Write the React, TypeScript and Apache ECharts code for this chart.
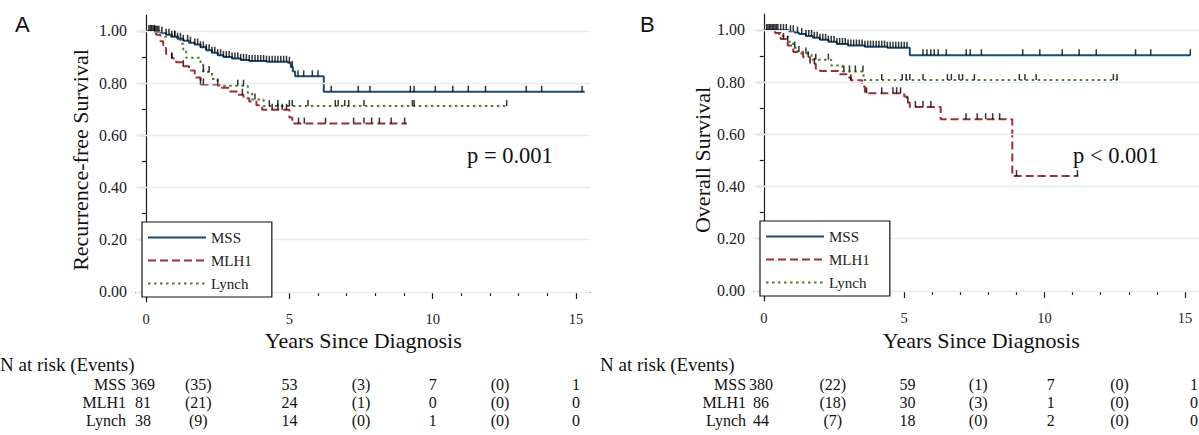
import React, { useEffect, useRef } from "react";
import * as echarts from "echarts";

// ---------- data ----------
const GROUPS = ["MSS", "MLH1", "Lynch"];
const X_MAJOR = [0, 5, 10, 15];
const X_MINOR = [1, 2, 3, 4, 6, 7, 8, 9, 11, 12, 13, 14];
const Y_MAJOR = [0, 0.2, 0.4, 0.6, 0.8, 1.0];
const Y_MINOR = [0.1, 0.3, 0.5, 0.7, 0.9];

// Panel A: recurrence-free survival, [years, survival] step points
const A_MSS = [
  [0, 1], [0.3, 0.997], [0.5, 0.994], [0.7, 0.985], [0.9, 0.978], [1.1, 0.97], [1.3, 0.962],
  [1.5, 0.955], [1.7, 0.948], [1.9, 0.937], [2.1, 0.926], [2.3, 0.916], [2.5, 0.907],
  [2.7, 0.9], [3.0, 0.894], [3.3, 0.889], [3.6, 0.885], [4.2, 0.882], [4.95, 0.878],
  [5.05, 0.862], [5.12, 0.845], [5.2, 0.826], [6.2, 0.767], [15.3, 0.767],
];
const A_MLH1 = [
  [0, 1], [0.35, 0.985], [0.5, 0.96], [0.6, 0.935], [0.7, 0.912], [0.9, 0.895], [1.05, 0.88],
  [1.3, 0.865], [1.5, 0.848], [1.7, 0.822], [1.9, 0.795], [2.6, 0.782], [2.9, 0.768],
  [3.2, 0.755], [3.4, 0.742], [3.6, 0.73], [3.85, 0.715], [4.05, 0.698], [5.0, 0.668],
  [5.1, 0.645], [9.1, 0.645],
];
const A_LYNCH = [
  [0, 1], [0.6, 0.978], [1.2, 0.951], [1.3, 0.924], [1.4, 0.897], [1.9, 0.87], [2.0, 0.843],
  [2.3, 0.816], [2.5, 0.79], [3.55, 0.763], [3.7, 0.737], [4.1, 0.712], [12.6, 0.712],
];
const A_MSS_CENSOR = [
  0.1, 0.15, 0.2, 0.25, 0.3, 0.35, 0.4, 0.45, 0.55, 0.7, 0.8, 0.9, 1.0, 1.1, 1.2, 1.3, 1.45,
  1.55, 1.7, 1.8, 1.9, 2.0, 2.1, 2.2, 2.3, 2.4, 2.5, 2.6, 2.7, 2.8, 2.9, 3.0, 3.1, 3.2, 3.3,
  3.4, 3.5, 3.6, 3.7, 3.8, 3.9, 4.0, 4.1, 4.2, 4.3, 4.4, 4.5, 4.6, 4.7, 4.8, 4.9, 5.0, 5.1,
  5.3, 5.5, 5.8, 6.0, 6.46, 7.4, 7.81, 9.22, 9.35, 10.09, 10.7, 11.24, 11.84, 13.26, 13.8, 15.21,
];
const A_MLH1_CENSOR = [
  0.3, 0.9, 1.3, 1.9, 2.0, 2.5, 3.36, 4.4, 4.6, 4.75, 4.9, 5.32, 5.52, 6.26, 7.24, 7.6, 7.87,
  8.14, 8.55, 9.02,
];
const A_LYNCH_CENSOR = [
  1.0, 2.0, 2.2, 3.2, 3.4, 3.8, 4.3, 4.6, 5.0, 5.1, 5.65, 6.6, 6.7, 6.93, 7.07, 7.6, 9.29,
  9.35, 12.58,
];

// Panel B: overall survival
const B_MSS = [
  [0, 1], [0.9, 0.995], [1.1, 0.99], [1.25, 0.984], [1.5, 0.977], [1.75, 0.97], [2.0, 0.962],
  [2.3, 0.955], [2.6, 0.946], [3.0, 0.94], [3.6, 0.936], [4.4, 0.932], [5.2, 0.903],
  [15.2, 0.903],
];
const B_MLH1 = [
  [0, 1], [0.4, 0.988], [0.6, 0.965], [0.85, 0.94], [1.05, 0.915], [1.4, 0.895], [1.65, 0.87],
  [1.85, 0.85], [2.0, 0.843], [2.65, 0.83], [2.95, 0.818], [3.1, 0.807], [3.5, 0.783],
  [3.6, 0.757], [5.0, 0.745], [5.1, 0.722], [5.2, 0.705], [6.3, 0.658], [8.85, 0.44],
  [11.2, 0.44],
];
const B_LYNCH = [
  [0, 1], [0.55, 0.977], [0.85, 0.955], [1.05, 0.932], [1.2, 0.91], [1.7, 0.886], [2.4, 0.864],
  [2.8, 0.841], [3.55, 0.808], [12.6, 0.808],
];
const B_MSS_CENSOR = [
  0.1, 0.15, 0.2, 0.25, 0.3, 0.35, 0.4, 0.45, 0.5, 0.6, 0.7, 0.8, 0.95, 1.05, 1.2, 1.35, 1.5,
  1.6, 1.7, 1.8, 1.9, 2.0, 2.1, 2.2, 2.3, 2.4, 2.5, 2.6, 2.7, 2.8, 2.9, 3.0, 3.1, 3.2, 3.3,
  3.4, 3.5, 3.6, 3.7, 3.8, 3.9, 4.0, 4.1, 4.2, 4.3, 4.4, 4.5, 4.6, 4.7, 4.8, 4.9, 5.0, 5.1,
  5.67, 5.81, 5.95, 6.07, 6.21, 6.5, 7.21, 7.35, 7.75, 9.22, 9.83, 10.63, 11.23, 11.84, 13.24,
  13.78, 15.19,
];
const B_MLH1_CENSOR = [
  0.7, 1.25, 1.58, 1.8, 3.1, 3.66, 4.2, 4.6, 4.73, 4.87, 5.13, 5.4, 5.67, 5.95, 7.2, 7.6, 7.9,
  8.15, 8.4, 9.0, 11.17,
];
const B_LYNCH_CENSOR = [
  0.85, 1.1, 1.5, 1.85, 2.3, 2.85, 3.05, 3.26, 3.53, 4.2, 4.93, 5.07, 5.2, 5.67, 6.54, 6.68,
  6.95, 7.08, 7.5, 9.1, 9.3, 9.7, 12.45, 12.58,
];

// Risk table (N at risk at 0,5,10,15 years; events in the intervals)
const A_RISK = [[369, 53, 7, 1], [81, 24, 0, 0], [38, 14, 1, 0]];
const A_EVENTS = [[35, 3, 0], [21, 1, 0], [9, 0, 0]];
const B_RISK = [[380, 59, 7, 1], [86, 30, 1, 0], [44, 18, 2, 0]];
const B_EVENTS = [[22, 1, 0], [18, 3, 0], [7, 0, 0]];
const RISK_TIMES = [0, 5, 10, 15];
const A_EVENT_TIMES = [1.82, 7.5, 12.35];
const B_EVENT_TIMES = [2.4, 7.47, 12.4];

// ---------- styles / layout ----------
const SERIF = "Liberation Serif, Times New Roman, serif";
const SANS = "Liberation Sans, Arial, sans-serif";
const COLORS = ["#1d4b72", "#9b2f3a", "#557a2c"];
const DASHES: any[] = ["solid", [8, 4], [2.5, 3.5]];
const X_MIN = -0.35;
const X_MAX = 15.5;
const Y_MIN = -0.038;
const Y_MAX = 1.061;
const PX_PER_YEAR = 28.67;
const GRID_W = (X_MAX - X_MIN) * PX_PER_YEAR;
const GRID_H = (Y_MAX - Y_MIN) * 261;
const TABLE_FONT = 16;

function stepValue(curve: number[][], t: number) {
  let v = curve[0][1];
  for (const [ti, si] of curve) if (ti <= t) v = si;
  return v;
}

function buildPanel(p: any, idx: number) {
  const xi = idx * 2;
  const grid = { left: p.left, top: p.top, width: GRID_W, height: GRID_H };
  const tickLine = { color: "#1a1a1a", width: 1.2 };
  const xAxes = [
    {
      type: "value", gridIndex: idx, min: X_MIN, max: X_MAX, position: "bottom",
      axisLine: { show: true, lineStyle: { color: "#1a1a1a", width: 1.2 } },
      axisTick: { show: true, customValues: X_MAJOR, length: 7, lineStyle: tickLine },
      axisLabel: { show: true, customValues: X_MAJOR, margin: 10, fontSize: 14.5, fontFamily: SERIF, color: "#222", formatter: (v: number) => String(v) },
      splitLine: { show: false },
    },
    {
      type: "value", gridIndex: idx, min: X_MIN, max: X_MAX, position: "bottom",
      axisLine: { show: false },
      axisTick: { show: true, customValues: X_MINOR, length: 4, lineStyle: tickLine },
      axisLabel: { show: false },
      splitLine: { show: false },
    },
  ];
  const yAxes = [
    {
      type: "value", gridIndex: idx, min: Y_MIN, max: Y_MAX, position: "left",
      axisLine: { show: true, lineStyle: { color: "#1a1a1a", width: 1.2 } },
      axisTick: { show: true, customValues: Y_MAJOR, length: 7, lineStyle: tickLine },
      axisLabel: { show: true, customValues: Y_MAJOR, margin: 9, fontSize: 16, fontFamily: SERIF, color: "#222", formatter: (v: number) => v.toFixed(2) },
      splitLine: { show: false },
    },
    {
      type: "value", gridIndex: idx, min: Y_MIN, max: Y_MAX, position: "left",
      axisLine: { show: false },
      axisTick: { show: true, customValues: Y_MINOR, length: 4, lineStyle: tickLine },
      axisLabel: { show: false },
      splitLine: { show: false },
    },
  ];
  const series: any[] = [
    {
      type: "line", name: "grid" + idx, xAxisIndex: xi, yAxisIndex: xi, data: [], z: 0, silent: true,
      markLine: {
        silent: true, symbol: ["none", "none"], label: { show: false },
        lineStyle: { color: "#e3ecf1", type: "solid", width: 1.3 },
        data: Y_MAJOR.map((v) => ({ yAxis: v })),
      },
    },
  ];
  p.curves.forEach((c: number[][], k: number) => {
    series.push({
      type: "line", name: GROUPS[k], xAxisIndex: xi, yAxisIndex: xi, step: "end",
      data: c, symbol: "none", showSymbol: false, z: 2 + (2 - k),
      lineStyle: { color: COLORS[k], width: 2, type: DASHES[k] },
      itemStyle: { color: COLORS[k] },
    });
  });
  p.censors.forEach((cs: number[], k: number) => {
    series.push({
      type: "scatter", name: GROUPS[k] + " censored " + idx, xAxisIndex: xi, yAxisIndex: xi,
      data: cs.map((t) => [t, stepValue(p.curves[k], t)]), symbol: "rect",
      symbolSize: [1.5, 6], symbolOffset: [0, -3], z: 6,
      itemStyle: { color: "#000" },
    });
  });
  const legend = {
    show: true, orient: "vertical", left: p.legendLeft, top: p.legendTop, data: GROUPS,
    itemWidth: 58, itemHeight: 14, itemGap: 8, padding: [8, 20, 6, 5],
    borderColor: "#111", borderWidth: 1.2, backgroundColor: "#fff", selectedMode: false,
    itemStyle: { opacity: 0, color: "rgba(0,0,0,0)", borderWidth: 0 },
    textStyle: { fontFamily: SERIF, fontSize: 15, color: "#222" }, z: 8,
  };
  const xPx = (t: number) => p.left + (t - X_MIN) * PX_PER_YEAR;
  const txt = (text: string, x: number, y: number, size: number, align: string, extra: any = {}) => ({
    type: "text", x, y, silent: true, ...extra,
    style: { text, fontSize: size, fontFamily: SERIF, fill: "#111", align, verticalAlign: "middle" },
  });
  const graphics: any[] = [
    { type: "text", x: p.letterX, y: 13, silent: true, style: { text: p.letter, fontSize: 22, fontFamily: SANS, fill: "#111", align: "left", verticalAlign: "top" } },
    txt(p.yTitle, p.yTitleX, 160, 22, "center", { rotation: Math.PI / 2 }),
    txt("Years Since Diagnosis", p.left + GRID_W / 2, 340, 22, "center"),
    txt(p.pText, p.pX, 155, 22.5, "left"),
    txt("N at risk (Events)", p.tableX, 364, 19, "left"),
  ];
  const rowY = [384, 402, 420];
  GROUPS.forEach((g, r) => {
    graphics.push(txt(g, xPx(0) - p.labelGap, rowY[r], TABLE_FONT, "right"));
    p.risk[r].forEach((n: number, c: number) => graphics.push(txt(String(n), xPx(RISK_TIMES[c]) - (c === 0 ? 3 : 0), rowY[r], TABLE_FONT, "center")));
    p.events[r].forEach((n: number, c: number) => graphics.push(txt("(" + n + ")", xPx(p.eventTimes[c]), rowY[r], TABLE_FONT, "center")));
  });
  return { grid, xAxes, yAxes, series, legend, graphics };
}

const PANELS = [
  {
    left: 136, top: 15, letter: "A", letterX: 15, yTitle: "Recurrence-free Survival", yTitleX: 80,
    pText: "p = 0.001", pX: 467, legendLeft: 142, legendTop: 222, tableX: 0, labelGap: 20,
    curves: [A_MSS, A_MLH1, A_LYNCH], censors: [A_MSS_CENSOR, A_MLH1_CENSOR, A_LYNCH_CENSOR],
    risk: A_RISK, events: A_EVENTS, eventTimes: A_EVENT_TIMES,
  },
  {
    left: 754, top: 14, letter: "B", letterX: 640, yTitle: "Overall Survival", yTitleX: 702,
    pText: "p < 0.001", pX: 1073, legendLeft: 760, legendTop: 221, tableX: 600, labelGap: 18,
    curves: [B_MSS, B_MLH1, B_LYNCH], censors: [B_MSS_CENSOR, B_MLH1_CENSOR, B_LYNCH_CENSOR],
    risk: B_RISK, events: B_EVENTS, eventTimes: B_EVENT_TIMES,
  },
];

export default function App() {
  const ref = useRef<HTMLDivElement>(null);
  useEffect(() => {
    document.body.style.margin = "0";
    if (!ref.current) return;
    const chart = echarts.init(ref.current, undefined, { renderer: "svg" });
    const built = PANELS.map((p, i) => buildPanel(p, i));
    const option: any = {
      animation: false,
      backgroundColor: "#fff",
      textStyle: { fontFamily: SERIF },
      grid: built.map((b) => b.grid),
      xAxis: built.flatMap((b) => b.xAxes),
      yAxis: built.flatMap((b) => b.yAxes),
      legend: built.map((b) => b.legend),
      series: built.flatMap((b) => b.series),
      graphic: { elements: built.flatMap((b) => b.graphics) },
    };
    chart.setOption(option);
    return () => chart.dispose();
  }, []);
  return <div ref={ref} style={{ width: 1199, height: 435 }} />;
}
